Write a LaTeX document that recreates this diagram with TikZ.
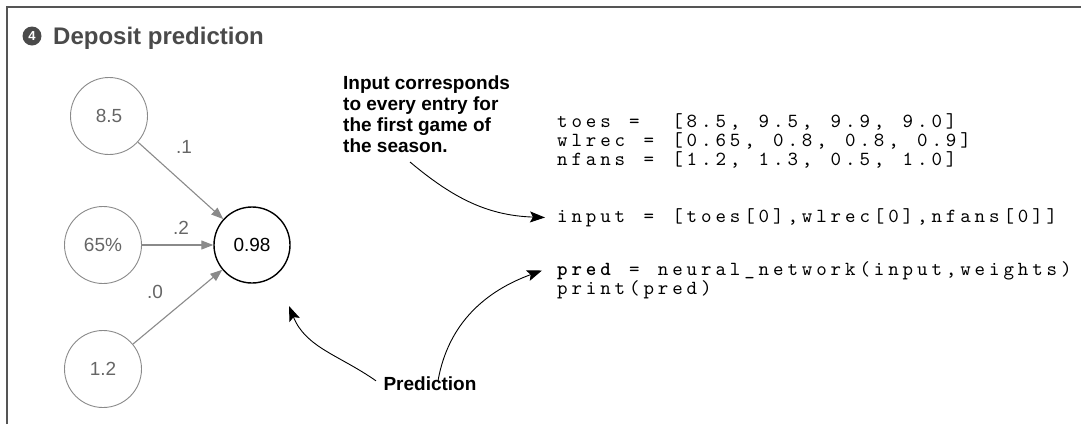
\documentclass[tikz,border=0pt]{standalone}
\usepackage{fontspec}
\setmainfont{Liberation Sans}
\newfontfamily\codefont{lmmono10-regular.otf}[BoldFont=lmmonolt10-bold.otf]
\usetikzlibrary{arrows.meta}
\definecolor{framegray}{HTML}{555555}
\definecolor{titlegray}{HTML}{4A4A4A}
\definecolor{nodegray}{HTML}{8A8A8A}
\definecolor{textgray}{HTML}{666666}
\newcommand\codeline[1]{\raisebox{0pt}[12pt][3pt]{\codeloop#1\relax}}
\def\codeloop#1{\ifx#1\relax\else\makebox[14.4pt][c]{#1}\expandafter\codeloop\fi}
\tikzset{
  innode/.style={circle, draw=nodegray, line width=0.9pt, minimum size=77pt, inner sep=0pt,
    text=textgray, font=\fontsize{19}{19}\selectfont},
  outnode/.style={circle, draw=black, line width=1.4pt, minimum size=76pt, inner sep=0pt,
    font=\fontsize{19}{19}\selectfont},
  wlabel/.style={text=textgray, font=\fontsize{19}{19}\selectfont, inner sep=0pt},
  grayarrow/.style={draw=nodegray, line width=1.1pt, -{Triangle[length=12pt,width=9pt]}},
  blackarrow/.style={draw=black, line width=0.9pt, -{Stealth[length=15pt,width=11pt,inset=3pt]}},
  code/.style={anchor=base west, inner sep=0pt, font=\codefont\fontsize{20}{20}\selectfont},
  note/.style={inner sep=0pt, font=\bfseries\fontsize{19}{21}\selectfont, align=left},
}
\begin{document}
\begin{tikzpicture}[x=1pt,y=-1pt]
\useasboundingbox (0,0) rectangle (1081,424);
% frame
\draw[framegray, line width=1.5pt] (7,424) -- (7,7) -- (1081,7);
% title
\node[circle, fill=titlegray, minimum size=19pt, inner sep=0pt, text=white,
  font=\bfseries\fontsize{13}{13}\selectfont] (badge) at (32,36) {4};
\node[anchor=base west, inner sep=0pt, text=titlegray,
  font=\bfseries\fontsize{24}{24}\selectfont] (title) at (53,44) {Deposit prediction};
% network
\node[innode] (a) at (109,116) {8.5};
\node[innode] (b) at (103,245) {65\%};
\node[innode] (c) at (103,369) {1.2};
\node[outnode] (o) at (252,245) {0.98};
\draw[grayarrow] (a) -- (o);
\draw[grayarrow] (b) -- (o);
\draw[grayarrow] (c) -- (o);
\node[wlabel] (w1) at (184,147) {.1};
\node[wlabel] (w2) at (181,228) {.2};
\node[wlabel] (w3) at (155,292) {.0};
% annotation
\node[note, anchor=north west] (note) at (343,76)
  {Input corresponds\\to every entry for\\the first game of\\the season.};
% code
\node[code] (c1) at (555,127) {\codeline{toes~=~~[8.5,~9.5,~9.9,~9.0]}};
\node[code] (c2) at (555,146) {\codeline{wlrec~=~[0.65,~0.8,~0.8,~0.9]}};
\node[code] (c3) at (555,165) {\codeline{nfans~=~[1.2,~1.3,~0.5,~1.0]}};
\node[code] (c4) at (555,222) {\codeline{input~=~[toes[0],wlrec[0],nfans[0]]}};
\node[code] (c5) at (555,275) {{\bfseries\codeline{pred}}\codeline{~=~neural\_network(input,weights)}};
\node[code] (c6) at (555,294) {\codeline{print(pred)}};
% prediction label
\node[inner sep=0pt, font=\bfseries\fontsize{19}{19}\selectfont] (pred) at (430,384) {Prediction};
% curved arrows
\coordinate (s1) at (410,162);
\draw[blackarrow] (s1) to[out=-40, in=178] ([xshift=-10pt]c4.west);
\draw[blackarrow] ([xshift=-54pt,yshift=-4pt]pred.north) to[out=145, in=-68] (289,306);
\draw[blackarrow] ([xshift=8pt,yshift=-4pt]pred.north) to[out=80, in=200] ([xshift=-13pt]c5.west);
\end{tikzpicture}
\end{document}
